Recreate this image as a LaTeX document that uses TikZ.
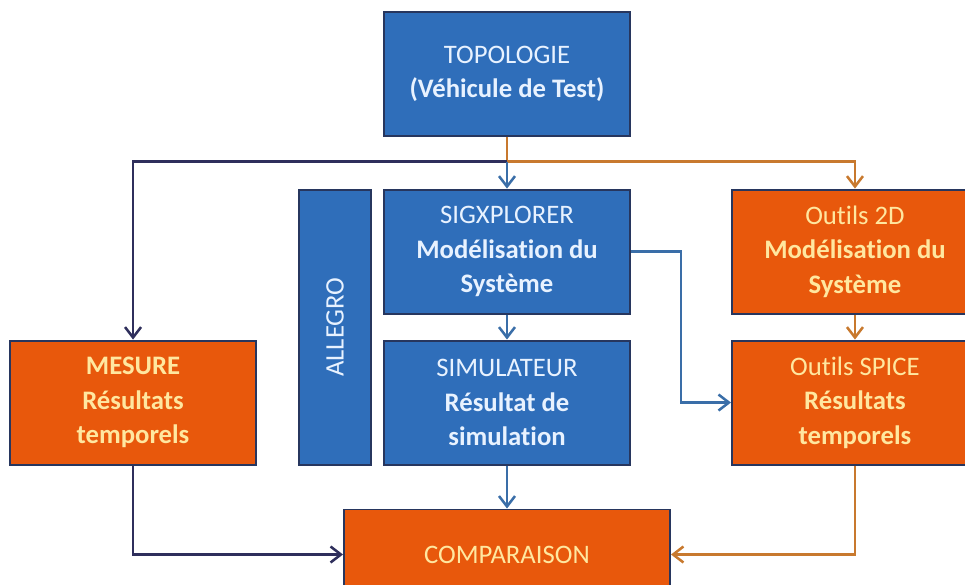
\documentclass[tikz,border=0pt]{standalone}
\usepackage{fontspec}
\setmainfont{Carlito}[Ligatures=NoCommon]
\usetikzlibrary{arrows.meta, positioning, calc}

\definecolor{boxblue}{HTML}{2F6EBA}
\definecolor{boxorange}{HTML}{E8580C}
\definecolor{boxborder}{HTML}{27365E}
\definecolor{bluetext}{HTML}{E8F2FF}
\definecolor{orangetext}{HTML}{FFE7A0}
\definecolor{linedark}{HTML}{2F2F5C}
\definecolor{lineorange}{HTML}{C8792E}
\definecolor{lineblue}{HTML}{3A6EA8}

\begin{document}
\begin{tikzpicture}[
        node distance=1.3cm and 2.5cm,
        box/.style={rectangle, draw=boxborder, fill=boxblue, line width=1.4pt, minimum width=6.15cm, minimum height=3.1cm, align=center, text=bluetext, font=\fontsize{19}{24.5}\selectfont},
        outbox/.style={box, fill=boxorange, text=orangetext},
        arrow/.style={->, >={Straight Barb[length=2.6mm, width=4mm]}, line width=1.8pt}
    ]
    \useasboundingbox (0,0) rectangle (24.125,-14.6);

    \node (topo) [box] at (12.675,-1.84) {TOPOLOGIE\\\textbf{(Véhicule de Test)}};
    \node (sigx) [box, below=of topo] {SIGXPLORER\\\textbf{Modélisation du}\\\textbf{Système}};
    \node (simu) [box, below=0.625cm of sigx] {SIMULATEUR\\\textbf{Résultat de}\\\textbf{simulation}};
    \node (mesure) [outbox, left=3.15cm of simu] {\textbf{MESURE}\\\textbf{Résultats}\\\textbf{temporels}};
    \node (spice) [outbox, right=of simu] {Outils SPICE\\\textbf{Résultats}\\\textbf{temporels}};
    \node (outils) [outbox, right=of sigx] {Outils 2D\\\textbf{Modélisation du}\\\textbf{Système}};
    \node (comp) [outbox, below=1.075cm of simu, minimum width=8.15cm, minimum height=2.25cm] {COMPARAISON};
    \node (allegro) [box, rotate=90, minimum width=6.875cm, minimum height=1.8cm] at ($(sigx.north west)!0.5!(simu.south west)+(-1.2,0)$) {ALLEGRO};

    \coordinate[below=0.625cm of topo] (split);

    \draw [line width=1.8pt, draw=lineorange] (topo) -- (split);
    \draw [arrow, draw=linedark] (split) -| (mesure.north);
    \draw [arrow, draw=lineorange] (split) -| (outils.north);
    \draw [arrow, draw=lineblue] (split) -- (sigx);
    \draw [arrow, draw=lineblue] (sigx) -- (simu);
    \draw [arrow, draw=lineblue] (sigx.east) -- ++(1.25,0) |- (spice.west);
    \draw [arrow, draw=lineorange] (outils) -- (spice);
    \draw [arrow, draw=linedark] (mesure.south) |- (comp.west);
    \draw [arrow, draw=lineblue] (simu) -- (comp);
    \draw [arrow, draw=lineorange] (spice.south) |- (comp.east);

\end{tikzpicture}
\end{document}
